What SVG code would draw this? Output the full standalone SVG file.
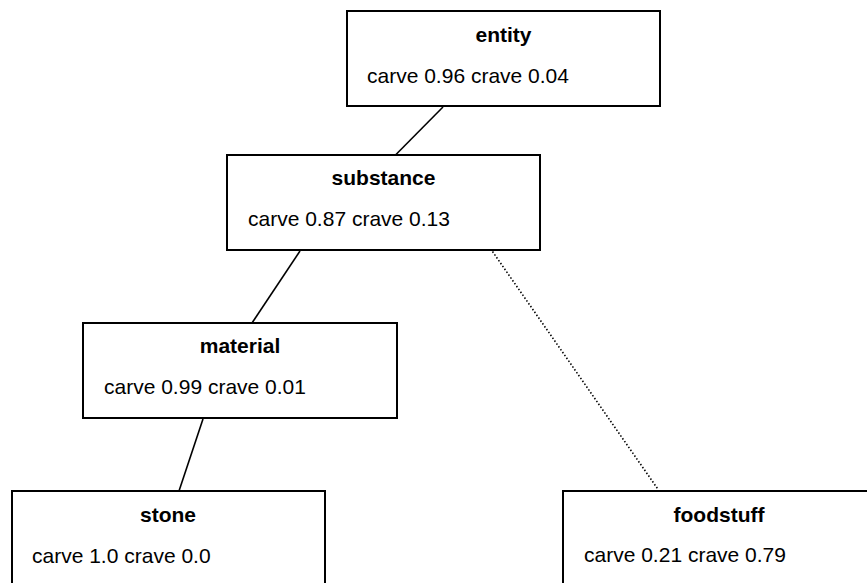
<svg xmlns="http://www.w3.org/2000/svg" width="867" height="583" viewBox="0 0 867 583">
<style>
.box{fill:#fff;stroke:#000;stroke-width:2}
.t{font-family:"Liberation Sans",Arial,sans-serif;font-size:21px;font-weight:bold;text-anchor:middle;fill:#000}
.b{font-family:"Liberation Sans",Arial,sans-serif;font-size:21px;fill:#000}
.e{stroke:#000;stroke-width:1.6;fill:none}
.d{stroke:#000;stroke-width:1.6;fill:none;stroke-dasharray:1.5 2}
</style>
<rect width="867" height="583" fill="#fff"/>
<g id="connectors">
<line class="e" x1="443" y1="107" x2="395.5" y2="155"/>
<line class="e" x1="300" y1="251" x2="252" y2="323"/>
<line class="e" x1="203" y1="419" x2="179" y2="491"/>
<line class="d" x1="492.5" y1="251.5" x2="658.5" y2="490"/>
</g>
<g id="entity">
<rect class="box" x="347" y="11" width="313" height="95"/>
<text class="t" x="503.5" y="42">entity</text>
<text class="b" x="367" y="83">carve 0.96 crave 0.04</text>
</g>
<g id="substance">
<rect class="box" x="227" y="155" width="313" height="95"/>
<text class="t" x="383.5" y="185">substance</text>
<text class="b" x="248" y="226">carve 0.87 crave 0.13</text>
</g>
<g id="material">
<rect class="box" x="83" y="323" width="314" height="95"/>
<text class="t" x="240" y="353">material</text>
<text class="b" x="104" y="394">carve 0.99 crave 0.01</text>
</g>
<g id="stone">
<rect class="box" x="12" y="491" width="313" height="95"/>
<text class="t" x="168" y="522">stone</text>
<text class="b" x="32" y="563">carve 1.0 crave 0.0</text>
</g>
<g id="foodstuff">
<rect class="box" x="563" y="491" width="313" height="95"/>
<text class="t" x="719" y="522">foodstuff</text>
<text class="b" x="584" y="562">carve 0.21 crave 0.79</text>
</g>
</svg>
